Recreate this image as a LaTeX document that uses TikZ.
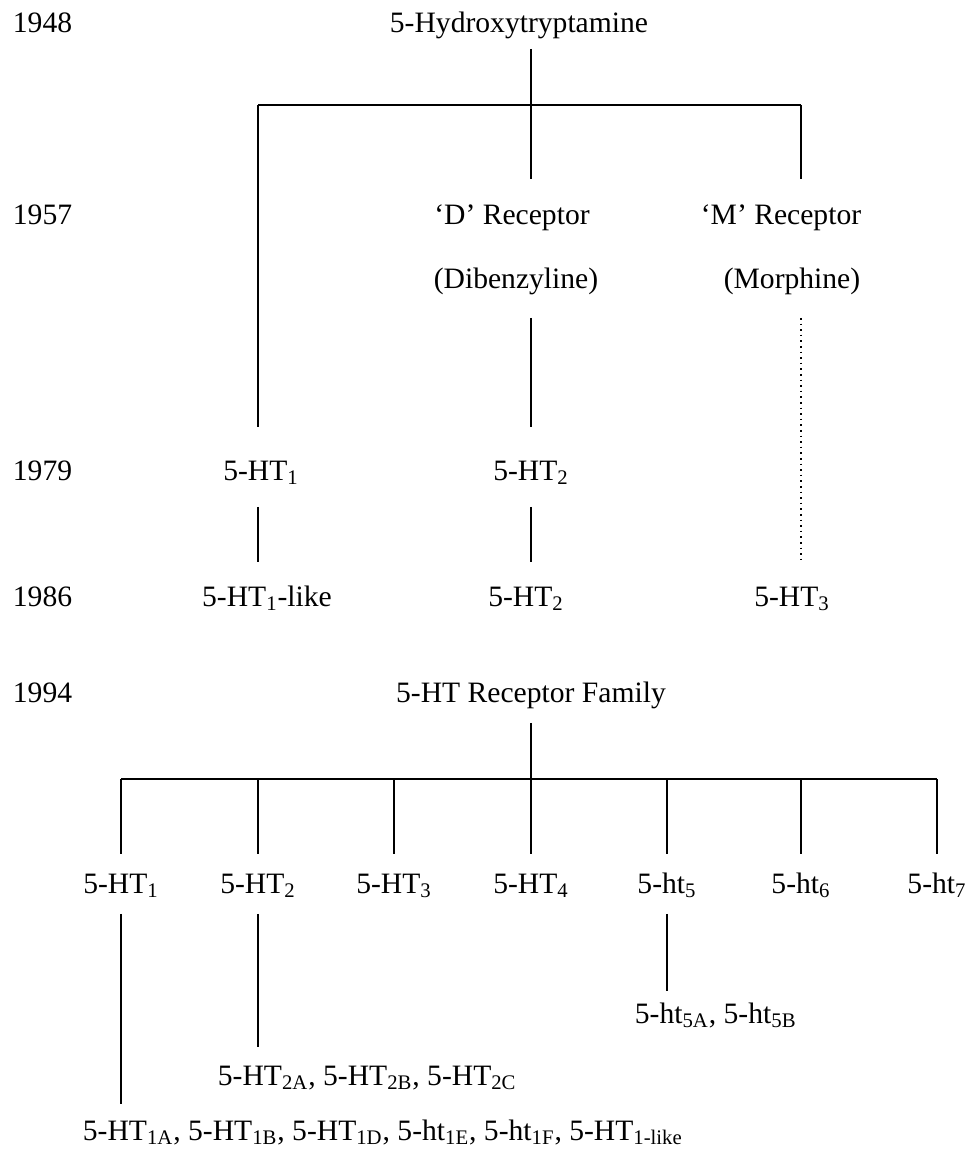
\documentclass[tikz,border=0pt]{standalone}
\usepackage{fontspec}
\setmainfont{Liberation Serif}
\newcommand{\lo}[1]{\textsubscript{#1}}

\begin{document}
\begin{tikzpicture}[x=0.5pt, y=-0.5pt, line width=0.9pt,
  lbl/.style={inner sep=0pt, text height=10.5pt, text depth=3.5pt,
              font=\fontsize{14.8}{17}\selectfont, anchor=base},
  yr/.style={lbl, anchor=base west},
  bar/.style={line width=1.1pt}]
  \useasboundingbox (0,0) rectangle (969,1161);
  % Years down the left side
  \node[yr] (y48) at (12,33)  {1948};
  \node[yr] (y57) at (12,224) {1957};
  \node[yr] (y79) at (12,480) {1979};
  \node[yr] (y86) at (12,606) {1986};
  \node[yr] (y94) at (12,702) {1994};
  % Early classification
  \node[lbl] (hydroxy) at (519,33)  {5-Hydroxytryptamine};
  \node[lbl] (drec)    at (512,224) {‘D’ Receptor};
  \node[lbl] (dib)     at (516,288) {(Dibenzyline)};
  \node[lbl] (mrec)    at (781,224) {‘M’ Receptor};
  \node[lbl] (morph)   at (792,288) {(Morphine)};
  \node[lbl] (r1a)     at (261,480) {5-HT\lo{1}};
  \node[lbl] (r2a)     at (531,480) {5-HT\lo{2}};
  \node[lbl] (r1b)     at (267,606) {5-HT\lo{1}-like};
  \node[lbl] (r2b)     at (526,606) {5-HT\lo{2}};
  \node[lbl] (r3b)     at (792,606) {5-HT\lo{3}};
  \coordinate (top)  at (531,105);
  \coordinate (barL) at (258,105);
  \coordinate (barR) at (801,105);
  \draw[shorten <=4pt] (top |- hydroxy.south) -- (top);
  \draw[bar] (barL) -- (barR);
  \draw[shorten >=15.5pt] (barL) -- (barL |- r1a.north);
  \draw[shorten >=11.5pt] (top) -- (top |- drec.north);
  \draw[shorten >=11.5pt] (barR) -- (barR |- mrec.north);
  \draw[shorten <=11pt, shorten >=15.5pt] (top |- dib.south) -- (top |- r2a.north);
  \draw[dotted, line width=0.8pt, shorten <=11pt, shorten >=11pt]
    (barR |- morph.south) -- (barR |- r3b.north);
  \draw[shorten <=9.5pt, shorten >=11pt] (barL |- r1a.south) -- (barL |- r1b.north);
  \draw[shorten <=9.5pt, shorten >=11pt] (top |- r2a.south) -- (top |- r2b.north);
  % Receptor family of 1994
  \node[lbl] (family) at (531,702) {5-HT Receptor Family};
  \foreach \n/\x/\t in {1/121/HT, 2/258/HT, 3/394/HT, 4/531/HT, 5/667/ht, 6/801/ht, 7/937/ht}
    \node[lbl] (f\n) at (\x,893) {5-\t\lo{\n}};
  \node[lbl, anchor=base west] (sub5) at (634,1023) {5-ht\lo{5A}, 5-ht\lo{5B}};
  \node[lbl, anchor=base west] (sub2) at (217,1085) {5-HT\lo{2A}, 5-HT\lo{2B}, 5-HT\lo{2C}};
  \node[lbl, anchor=base west] (sub1) at (82,1140)
    {5-HT\lo{1A}, 5-HT\lo{1B}, 5-HT\lo{1D}, 5-ht\lo{1E}, 5-ht\lo{1F}, 5-HT\lo{1-like}};
  \coordinate (famj) at (531,779);
  \draw[shorten <=6.5pt] (family.south) -- (famj);
  \draw[bar] (f1 |- famj) -- (f7 |- famj);
  \foreach \n in {1,...,7}
    \draw[shorten >=8.5pt] (f\n |- famj) -- (f\n.north);
  \draw[shorten <=6.5pt, shorten >=7pt] (f1.south) -- (f1 |- sub1.north);
  \draw[shorten <=6.5pt, shorten >=8pt] (f2.south) -- (f2 |- sub2.north);
  \draw[shorten <=6.5pt, shorten >=5pt] (f5.south) -- (f5 |- sub5.north);
\end{tikzpicture}
\end{document}
